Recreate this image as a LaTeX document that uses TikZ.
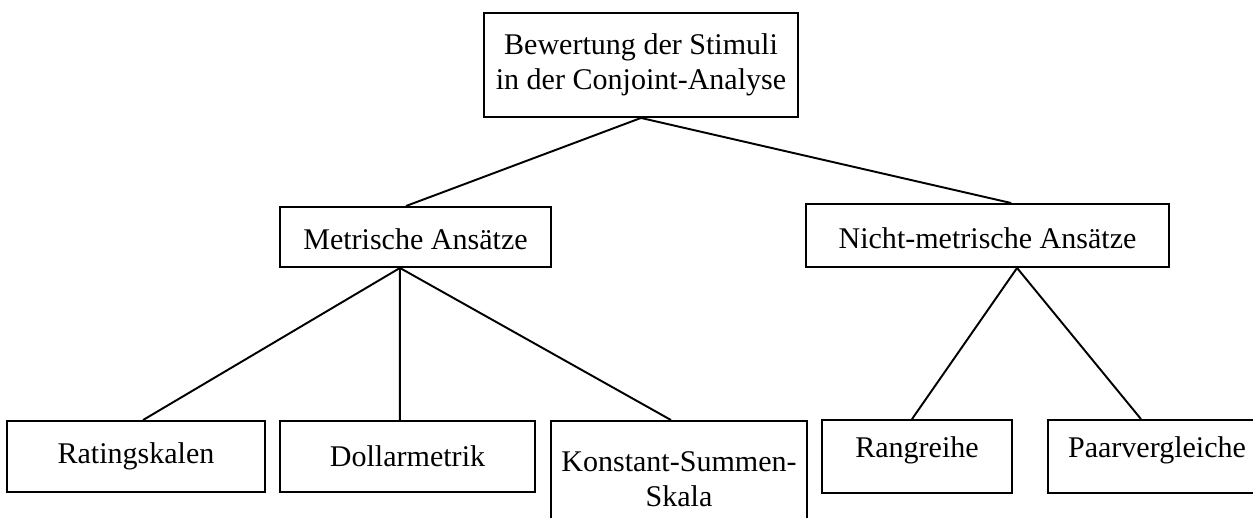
\documentclass[tikz,border=0pt]{standalone}
\usepackage{fontspec}
\setmainfont{Liberation Serif}
\usetikzlibrary{calc}

\begin{document}
\begin{tikzpicture}[
    x=0.02cm, y=-0.02cm,
    box/.style={draw, line width=1.1pt, align=center, inner sep=2pt, font=\fontsize{17.1}{20.2}\selectfont},
    high/.style={text height=0.45em, text depth=0.3em},
    low/.style={text height=1.47em, text depth=0em},
    conn/.style={line width=1.1pt}
]
\useasboundingbox (0,0) rectangle (1253,517);

\node[box, minimum width=6.28cm, minimum height=2.08cm] (top) at (641,65) {Bewertung der Stimuli\\in der Conjoint-Analyse};
\node[box, low, minimum width=5.42cm, minimum height=1.2cm] (metr) at (415.5,237) {Metrische Ans\"atze};
\node[box, low, minimum width=7.26cm, minimum height=1.26cm] (nicht) at (987.5,235.5) {Nicht-metrische Ans\"atze};
\node[box, minimum width=5.16cm, minimum height=1.42cm] (rating) at (136,456.5) {Ratingskalen};
\node[box, minimum width=5.1cm, minimum height=1.42cm] (dollar) at (407.5,456.5) {Dollarmetrik};
\node[box, minimum width=5.12cm, minimum height=2.32cm] (konst) at (679,479) {Konstant-Summen-\\Skala};
\node[box, high, minimum width=3.8cm, minimum height=1.46cm] (rang) at (917,456.5) {Rangreihe};
\node[box, high, minimum width=4.36cm, minimum height=1.46cm] (paar) at (1157,456.5) {Paarvergleiche};

% Abzweigpunkte
\coordinate (metrfoot) at ($(metr.south west)!0.443!(metr.south east)$);
\coordinate (nichtfoot) at ($(nicht.south west)!0.581!(nicht.south east)$);

\draw[conn] (top.south) -- ($(metr.north west)!0.465!(metr.north east)$);
\draw[conn] (top.south) -- ($(nicht.north west)!0.565!(nicht.north east)$);
\draw[conn] (metrfoot) -- ($(rating.north west)!0.527!(rating.north east)$);
\draw[conn] (metrfoot) -- ($(dollar.north west)!0.47!(dollar.north east)$);
\draw[conn] (metrfoot) -- ($(konst.north west)!0.469!(konst.north east)$);
\draw[conn] (nichtfoot) -- ($(rang.north west)!0.474!(rang.north east)$);
\draw[conn] (nichtfoot) -- ($(paar.north west)!0.427!(paar.north east)$);
\end{tikzpicture}
\end{document}
